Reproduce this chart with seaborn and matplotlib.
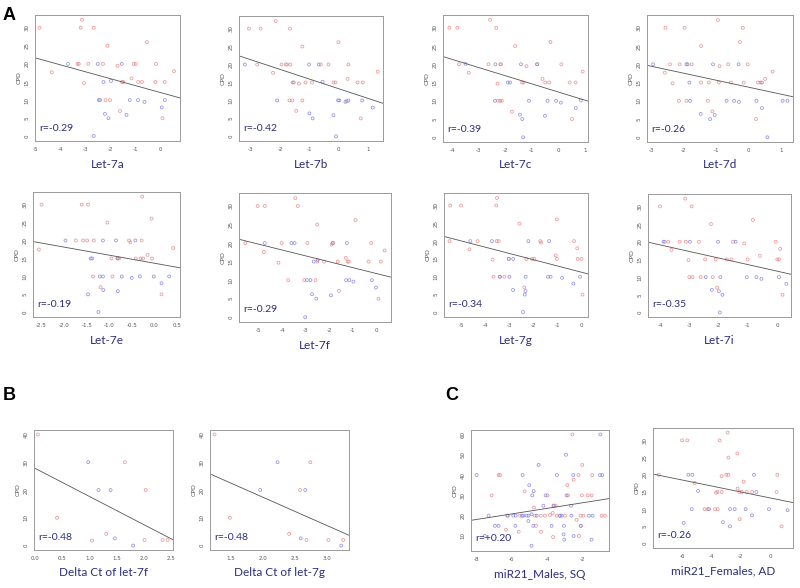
import numpy as np
import pandas as pd
import matplotlib
matplotlib.use("Agg")
import matplotlib.pyplot as plt
import seaborn as sns

RED = "#e98585"
BLUE = "#8080e0"
NAVY = "#2b2d7c"
BOX = "#8a8a8a"

# ---- panel A : let-7 family vs CPD ----
let7a_red_x = [-4.85, -3.15, -3.2, -2.68, -4.36, -3.33, -3.28, -2.9, -3.07, -2.31, -2.13, -1.73, -1.55, -1.5,
               -1.63, -2.21, -2.03, -1.17, -1.08, -1.0, -0.9, -0.75, -0.55, -0.19, -0.21, 0.16, 0.53, 0.07]
let7a_red_y = [30, 32.2, 30, 30, 17.7, 20, 20, 20, 14.7, 20, 25, 19.5, 15, 15, 7, 10, 10, 16, 20, 20, 15, 15,
               26, 20, 15, 15, 18, 5]
let7a_blue_x = [-3.71, -2.52, -2.48, -2.43, -2.29, -2.23, -2.09, -1.99, -1.56, -1.37, -1.24, -0.91, -0.65,
                0.04, 0.16, -2.68]
let7a_blue_y = [20, 20, 10, 10, 15, 6.2, 5, 15.3, 20, 5.9, 10, 10, 9.5, 8, 10, 0.1]

let7b_red_x = [-3.06, -2.66, -2.15, -1.66, -2.78, -2.24, -1.95, -1.8, -1.76, -1.65, -1.68, -1.58, -1.53, -1.45,
               -1.36, -1.24, -1.24, -1.13, -0.91, -0.61, -0.35, -0.18, -0.11, -0.01, 0.33, 0.3, 0.64, 0.82,
               0.75, 1.33, 0.27]
let7b_red_y = [30, 30, 32.1, 30, 20, 17.7, 20, 20, 20, 20, 10, 10, 15, 7.1, 14.7, 25, 10, 15, 15, 20, 20, 15,
               15, 26.2, 20, 16, 15, 15, 5, 18, 9.8]
let7b_blue_x = [-3.2, -2.1, -1.57, -1.01, -0.68, -0.55, -1.0, -0.89, -0.18, -0.09, -0.02, 0.02, 0.23, 0.33,
                0.8, 1.16]
let7b_blue_y = [20, 10, 15, 20, 20, 15.2, 6.4, 5, 5.9, 0, 10, 10, 9.6, 10, 10, 8.0]

let7c_red_x = [-4.1, -3.8, -2.57, -2.34, -3.74, -3.37, -2.63, -2.29, -2.19, -2.16, -1.63, -2.28, -2.19, -2.13,
               -1.75, -1.37, -1.31, -1.2, -0.79, -0.6, -0.5, -0.35, -0.3, 0.11, 0.42, 0.64, 0.91, 0.51]
let7c_red_y = [30, 30, 32.2, 30, 20, 17.7, 20, 14.7, 20, 20, 25, 10, 10, 10, 7, 15, 15, 19.5, 20, 16, 15, 15,
               26.1, 20, 15, 15, 18, 5]
let7c_blue_x = [-3.49, -2.37, -2.39, -1.82, -1.9, -1.41, -1.45, -1.36, -1.33, -1.11, -0.81, -0.51, -0.41,
                -0.09, 0.09, 0.65, 0.84]
let7c_blue_y = [20.1, 20, 10, 15, 15, 20, 6.2, 5, 0, 10, 20, 5.9, 10, 10, 9.5, 8, 10.1]

let7d_red_x = [-2.57, -1.98, -0.95, -0.18, -1.47, -0.27, -2.59, -2.43, -2.13, -1.76, -2.35, -1.47, -1.23, -0.92,
               -0.9, -0.63, -0.55, -0.15, -0.03, 0.29, 0.36, 0.51, 0.74, -2.15, -1.92, -1.26, -1.12, 0.23]
let7d_red_y = [30, 30, 32.1, 30, 25, 26.1, 17.7, 20, 20, 20, 14.8, 15, 15, 15, 19.5, 20, 15, 15, 20, 15, 15,
               16, 18, 10, 10, 10, 7.1, 5]
let7d_blue_x = [-2.95, -1.92, -1.89, -1.83, -1.81, -1.48, -1.19, -1.05, -1.1, -0.31, -0.68, -0.45, -0.3, 0.41,
                0.24, 0.41, 0.58, 1.05, 1.2]
let7d_blue_y = [20, 20, 20, 15, 10, 6.4, 5, 6.1, 20, 20, 10, 10, 9.7, 15, 10, 8, 0, 10, 10]

let7e_red_x = [-2.5, -1.61, -1.47, -0.27, -0.06, -1.04, -2.56, -1.74, -1.58, -1.49, -1.34, -0.56, -0.53, -0.28,
               -0.95, -0.82, -0.78, -0.41, -0.3, -0.25, -0.05, -0.15, 0.42, -1.36, -0.93, -1.19, 0.16]
let7e_red_y = [30, 30, 30, 32.2, 26.1, 25, 17.5, 20, 20, 20, 20, 20, 19.5, 20, 15, 15, 15, 15, 15, 15, 15, 16,
               17.9, 10, 10, 7, 5]
let7e_blue_x = [-1.97, -1.41, -1.38, -1.14, -0.85, -0.42, -1.21, -1.14, -0.72, -0.32, -0.5, -0.01, 0.33, -1.13,
                -0.81, -1.47, -1.24, 0.16, -0.81]
let7e_blue_y = [20, 15, 15, 20, 20, 20, 10, 10, 10, 10, 9.6, 10, 10, 6.2, 5.9, 5, 0.1, 8.1, 15]

let7f_red_x = [-5.03, -4.73, -3.44, -3.33, -2.51, -0.89, -5.55, -4.77, -4.02, -4.15, -2.93, -2.51, -2.22, -1.9,
               -1.83, -1.64, -1.3, -1.22, -1.18, -0.34, -0.23, 0.18, 0.34, -3.74, -3.06, -2.58, -1.59, 0.08]
let7f_red_y = [30, 30, 32.1, 30, 25, 26.2, 20, 17.6, 20, 14.7, 20, 15, 15, 19.6, 20, 15, 16, 15, 15, 15, 20,
               15, 18, 10, 10, 10, 7.1, 5]
let7f_blue_x = [-4.73, -3.6, -3.47, -2.95, -2.8, -2.66, -2.49, -2.73, -2.55, -3.02, -1.93, -1.86, -1.26, -1.29,
                -1.15, -0.98, -0.2, -0.03]
let7f_blue_y = [20, 20, 20, 10, 10, 15, 15.4, 6.2, 5, 0, 5.9, 20, 20, 10, 10, 9.6, 10, 8]

let7g_red_x = [-5.49, -5.04, -3.54, -3.57, -2.6, -1.04, -5.52, -4.69, -4.35, -3.55, -3.47, -3.72, -3.68, -3.43,
               -3.23, -3.04, -2.31, -2.07, -1.98, -1.73, -1.7, -1.09, -1.04, -0.32, -0.19, -0.17, -0.01, 0.03,
               -2.4]
let7g_red_y = [30, 30, 32.1, 30, 24.9, 26.1, 20, 17.7, 20, 20, 20, 14.8, 10, 10, 10, 15, 15, 15, 15, 20, 19.6,
               16, 15, 20, 18, 15, 15, 5, 7]
let7g_blue_x = [-4.65, -3.75, -3.41, -3.02, -3.05, -2.86, -2.87, -2.35, -2.38, -2.45, -2.34, -2.23, -1.36,
                -1.41, -1.3, -0.82, -0.35, -0.07]
let7g_blue_y = [20, 20, 10, 10, 15, 15, 6.3, 6, 5, 0.1, 10, 20, 20, 10, 10, 9.7, 8.1, 10]

let7i_red_x = [-4.0, -3.14, -2.92, -2.26, -0.83, -3.84, -3.72, -3.61, -3.33, -3.12, -2.67, -3.03, -2.46, -2.1,
               -1.72, -1.56, -1.51, -1.13, -1.01, -0.59, -0.05, 0.0, 0.06, 0.1, 0.18, -3.0, -2.89, -2.61, -2.2,
               -2.05]
let7i_red_y = [30, 32.2, 30, 25, 26.2, 20, 20, 17.7, 20, 20, 20, 14.8, 15, 15, 15, 15, 20, 19.5, 15, 16, 20,
               15, 15, 18, 5, 10, 10, 10, 10, 7]
let7i_blue_x = [-3.88, -2.98, -2.44, -2.02, -2.23, -1.99, -1.87, -1.96, -1.94, -1.42, -1.04, -0.71, -0.54,
                0.06, 0.31]
let7i_blue_y = [20, 20, 10, 20, 6.4, 6, 5, 0, 10, 20, 10, 10, 9.5, 10, 8.1]

# ---- panel B : delta Ct ----
dct7f_red_x = [0.06, 0.41, 1.65, 2.03, 1.31, 1.05, 2.01, 2.34, 2.43]
dct7f_red_y = [40, 10, 30, 20, 4.2, 1.8, 2, 2, 2]
dct7f_blue_x = [0.98, 1.17, 1.39, 1.47, 1.8]
dct7f_blue_y = [30, 20, 20, 2.6, 0]

dct7g_red_x = [1.25, 1.49, 2.74, 2.58, 2.41, 2.68, 3.02, 3.25]
dct7g_red_y = [40, 10, 30, 20, 4.2, 2, 2, 2]
dct7g_blue_x = [2.23, 1.96, 2.66, 2.59, 3.22]
dct7g_blue_y = [30, 20, 20, 2.6, 0]

# ---- panel C : miR21 ----
males_red_x = [-2.56, -2.0, -6.75, -6.67, -2.49, -2.85, -5.27, -7.15, -2.81, -2.02, -1.69, -3.97, -3.64, -3.51,
               -4.74, -6.22, -5.54, -4.69, -4.36, -4.12, -3.83, -3.68, -3.45, -3.27, -2.98, -2.09, -1.94, -0.9,
               -0.71, -2.32, -6.33, -5.61, -4.34, -3.66, -4.63, -2.19, -2.07, -1.47, -1.43, -2.22]
males_red_y = [60, 45, 40, 40, 37.7, 35, 32, 30, 30, 30, 30, 30, 25, 25, 24, 20, 20, 20, 20, 20, 20.3, 21.3,
               20, 20, 20, 20, 20, 20, 20, 18, 13.1, 12.1, 12.1, 9.5, 15, 10, 15, 30, 40, 40]
males_blue_x = [-0.97, -2.92, -4.48, -8.0, -5.39, -3.44, -2.51, -0.99, -0.86, -5.01, -4.76, -4.84, -4.08, -2.89,
                -4.21, -3.61, -2.64, -7.32, -6.26, -5.92, -5.78, -5.42, -5.35, -5.16, -5.05, -4.59, -3.27, -3.17,
                -2.62, -1.62, -1.41, -4.88, -6.96, -6.75, -5.8, -5.06, -4.78, -3.74, -3.04, -2.09, -7.53, -3.06,
                -2.49, -3.02, -1.47, -4.88]
males_blue_y = [60, 50, 45, 40, 40, 40, 40, 40, 40, 35, 32.1, 30, 30, 30, 24.9, 24.9, 24.9, 20, 20, 20, 20, 20,
                20, 20, 20, 20, 20, 20, 20, 20, 20, 20.7, 15, 15, 15, 17.4, 15, 15, 15, 15, 10, 10.8, 10, 8.2,
                8.2, 5.2]

females_red_x = [-6.02, -5.66, -2.91, -3.45, -2.25, -2.86, -7.61, -5.16, -3.32, -3.0, -2.86, 0.48, -3.7, -3.61,
                 -3.32, -2.23, -2.11, -1.95, -1.61, -1.82, -1.23, 0.43, -4.48, -4.27, -3.77, -3.59, -2.09, 0.77]
females_red_y = [30, 30, 32.3, 30, 26.2, 25, 20, 17.6, 19.6, 20, 20, 20, 14.8, 15, 15, 16, 15, 15, 15, 18, 15,
                 15, 10, 10, 10, 10, 7.1, 5]
females_blue_x = [-5.59, -5.32, -4.93, -5.36, -5.91, -4.18, -3.23, -2.75, -2.43, -2.75, -1.68, -1.25, -1.11,
                  -0.95, -0.09, 1.18]
females_blue_y = [20, 20, 15.3, 10, 6, 10, 6.2, 10, 10, 5, 10, 8.2, 20, 15, 10, 9.7]

# regression lines (intercept, slope) and r values as printed
fit_lines = {
    "Let-7a": (12.07, -1.91), "Let-7b": (13.26, -2.69), "Let-7c": (12.39, -2.24), "Let-7d": (13.72, -1.91),
    "Let-7e": (13.68, -2.24), "Let-7f": (11.77, -1.59), "Let-7g": (11.25, -1.75), "Let-7i": (11.67, -1.86),
    "Delta Ct of let-7f": (27.9, -10.2), "Delta Ct of let-7g": (37.87, -10.23),
    "miR21_Males, SQ": (29.06, 1.365), "miR21_Females, AD": (13.25, -0.869),
}
r_values = ["r=-0.29", "r=-0.42", "r=-0.39", "r=-0.26", "r=-0.19", "r=-0.29", "r=-0.34", "r=-0.35",
            "r=-0.48", "r=-0.48", "r=+0.20", "r=-0.26"]

cpd_ticks_a = [0, 5, 10, 15, 20, 25, 30]
cpd_ticks_b = [0, 10, 20, 30, 40]
cpd_ticks_c1 = [10, 20, 30, 40, 50, 60]


def draw_panel(fig, box, name, red_x, red_y, blue_x, blue_y, xlim, ylim, xticks, xtlabels, yticks, r_text):
    x0, y0, x1, y1 = box
    W, H = 800.0, 588.0
    ax = fig.add_axes([x0 / W, 1 - y1 / H, (x1 - x0) / W, (y1 - y0) / H])

    for xs, ys, col in [(red_x, red_y, RED), (blue_x, blue_y, BLUE)]:
        df = pd.DataFrame({"x": xs, "y": ys})
        sns.scatterplot(data=df, x="x", y="y", ax=ax, color=col, facecolor="none",
                        edgecolor=col, s=4.5, linewidth=0.55, alpha=0.85, legend=False)

    b0, b1 = fit_lines[name]
    xx = np.array(xlim)
    ax.plot(xx, b0 + b1 * xx, color="#555555", lw=0.6)

    ax.set_xlim(xlim)
    ax.set_ylim(ylim)
    ax.set_xticks(xticks)
    ax.set_xticklabels(xtlabels)
    ax.set_yticks(yticks)
    ax.set_yticklabels([str(t) for t in yticks], rotation=90, va="center")
    ax.tick_params(length=2.5, width=0.5, color=BOX, labelsize=4, pad=1.5, labelcolor="#555555")
    for sp in ax.spines.values():
        sp.set_color("#9a9a9a")
        sp.set_linewidth(0.7)
        sp.set_visible(True)
    ax.set_ylabel("CPD", fontsize=4.5, color="#555555", labelpad=2)
    ax.set_xlabel(name, fontsize=8.5, color=NAVY, fontfamily="Lato", labelpad=5)
    ax.text(0.03, 0.1, r_text, transform=ax.transAxes, fontsize=7.5, color=NAVY,
            fontfamily="Lato", va="center", ha="left")
    return ax


sns.set_theme(style="white")
plt.rcParams["font.family"] = ["DejaVu Sans"]

fig = plt.figure(figsize=(8, 5.88), dpi=100)
fig.patch.set_facecolor("white")

ya = (-1.29, 33.5)
draw_panel(fig, (35, 15, 180, 141), "Let-7a", let7a_red_x, let7a_red_y, let7a_blue_x, let7a_blue_y,
           (-5.03, 0.77), ya, [-5, -4, -3, -2, -1, 0], ["-5", "-4", "-3", "-2", "-1", "0"], cpd_ticks_a, r_values[0])
draw_panel(fig, (239, 16, 383, 141), "Let-7b", let7b_red_x, let7b_red_y, let7b_blue_x, let7b_blue_y,
           (-3.4, 1.51), ya, [-3, -2, -1, 0, 1], ["-3", "-2", "-1", "0", "1"], cpd_ticks_a, r_values[1])
draw_panel(fig, (443, 15, 588, 142), "Let-7c", let7c_red_x, let7c_red_y, let7c_blue_x, let7c_blue_y,
           (-4.34, 1.11), ya, [-4, -3, -2, -1, 0, 1], ["-4", "-3", "-2", "-1", "0", "1"], cpd_ticks_a, r_values[2])
draw_panel(fig, (647, 15, 793, 142), "Let-7d", let7d_red_x, let7d_red_y, let7d_blue_x, let7d_blue_y,
           (-3.14, 1.37), ya, [-3, -2, -1, 0, 1], ["-3", "-2", "-1", "0", "1"], cpd_ticks_a, r_values[3])
draw_panel(fig, (33, 192, 180, 317), "Let-7e", let7e_red_x, let7e_red_y, let7e_blue_x, let7e_blue_y,
           (-2.69, 0.57), ya, [-2.5, -2.0, -1.5, -1.0, -0.5, 0.0, 0.5],
           ["-2.5", "-2.0", "-1.5", "-1.0", "-0.5", "0.0", "0.5"], cpd_ticks_a, r_values[4])
draw_panel(fig, (239, 193, 391, 322), "Let-7f", let7f_red_x, let7f_red_y, let7f_blue_x, let7f_blue_y,
           (-5.82, 0.61), ya, [-5, -4, -3, -2, -1, 0], ["-5", "-4", "-3", "-2", "-1", "0"], cpd_ticks_a, r_values[5])
draw_panel(fig, (444, 193, 588, 317), "Let-7g", let7g_red_x, let7g_red_y, let7g_blue_x, let7g_blue_y,
           (-5.75, 0.26), ya, [-5, -4, -3, -2, -1, 0], ["-5", "-4", "-3", "-2", "-1", "0"], cpd_ticks_a, r_values[6])
draw_panel(fig, (648, 194, 791, 317), "Let-7i", let7i_red_x, let7i_red_y, let7i_blue_x, let7i_blue_y,
           (-4.41, 0.47), ya, [-4, -3, -2, -1, 0], ["-4", "-3", "-2", "-1", "0"], cpd_ticks_a, r_values[7])

yb = (-1.6, 41.6)
draw_panel(fig, (34, 430, 173, 550), "Delta Ct of let-7f", dct7f_red_x, dct7f_red_y, dct7f_blue_x, dct7f_blue_y,
           (-0.01, 2.53), yb, [0.0, 0.5, 1.0, 1.5, 2.0, 2.5], ["0.0", "0.5", "1.0", "1.5", "2.0", "2.5"],
           cpd_ticks_b, r_values[8])
draw_panel(fig, (210, 430, 349, 550), "Delta Ct of let-7g", dct7g_red_x, dct7g_red_y, dct7g_blue_x, dct7g_blue_y,
           (1.18, 3.34), yb, [1.5, 2.0, 2.5, 3.0], ["1.5", "2.0", "2.5", "3.0"], cpd_ticks_b, r_values[9])
draw_panel(fig, (471, 430, 609, 551), "miR21_Males, SQ", males_red_x, males_red_y, males_blue_x, males_blue_y,
           (-8.32, -0.48), (2.6, 62.2), [-8, -6, -4, -2], ["-8", "-6", "-4", "-2"], cpd_ticks_c1, r_values[10])
draw_panel(fig, (653, 428, 793, 548), "miR21_Females, AD", females_red_x, females_red_y, females_blue_x,
           females_blue_y, (-8.0, 1.55), (-1.3, 33.6), [-6, -4, -2, 0], ["-6", "-4", "-2", "0"], cpd_ticks_a,
           r_values[11])

for letter, px, py in [("A", 9, 15), ("B", 9, 395), ("C", 452, 395)]:
    fig.text(px / 800, 1 - py / 588, letter, fontsize=13, fontweight="bold", fontfamily="Liberation Sans",
             ha="center", va="center", color="black")

fig.savefig("out.png", dpi=100)
